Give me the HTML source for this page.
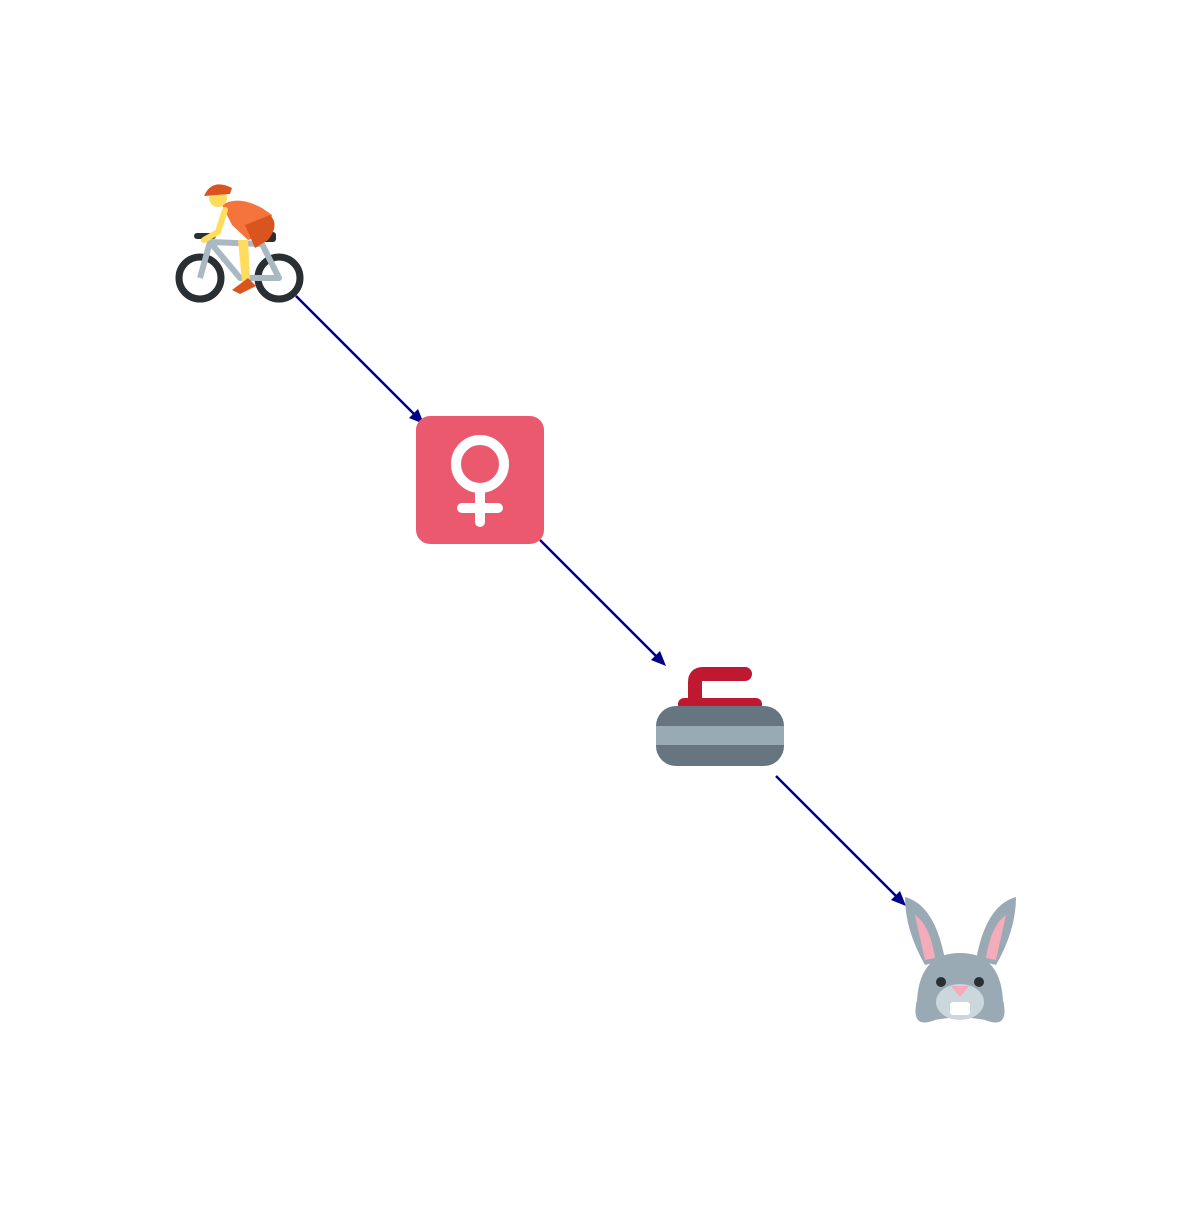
<!DOCTYPE html>
<html><head><meta charset="utf-8"><style>html,body{margin:0;padding:0;background:#fff}</style></head>
<body>
<svg width="1200" height="1200" viewBox="0 0 1200 1200" xmlns="http://www.w3.org/2000/svg">
<defs><marker id="a" markerWidth="10" markerHeight="10" refX="9" refY="5" orient="auto" markerUnits="userSpaceOnUse"><path d="M0,0 L10,5 L0,10 z" fill="#00008b" transform="scale(1.4) translate(-3,-1.5)"/></marker></defs>
<g stroke="#00008b" stroke-width="2.5">
<line x1="296" y1="296" x2="420" y2="420"/>
<line x1="540" y1="540" x2="662" y2="662"/>
<line x1="776" y1="776" x2="902" y2="902"/>
</g>
<g fill="#00008b">
<polygon points="424,424 409,418 418,409"/>
<polygon points="666,666 651,660 660,651"/>
<polygon points="906,906 891,900 900,891"/>
</g>
<!-- cyclist -->
<g>
<circle cx="200" cy="278" r="21" fill="none" stroke="#292f33" stroke-width="7"/>
<circle cx="279" cy="278" r="21" fill="none" stroke="#292f33" stroke-width="7"/>
<path d="M200,278 L210,242 L262,244 L279,278 L240,278 L210,242" fill="none" stroke="#aab8c2" stroke-width="6" stroke-linejoin="round"/>
<rect x="194" y="233" width="22" height="6" rx="3" fill="#292f33"/>
<rect x="262" y="232" width="14" height="10" rx="3" fill="#292f33"/>
<path d="M222,205 Q238,195 262,208 L272,215 L268,232 L248,240 L232,225 Z" fill="#f4743b"/>
<path d="M245,225 L270,215 Q280,225 268,240 L255,248 Z" fill="#d9541e"/>
<path d="M238,240 L248,240 L250,280 L242,282 Z" fill="#ffdc5d"/>
<path d="M232,290 L248,278 L256,286 L240,294 Z" fill="#d9541e"/>
<path d="M225,210 L218,232 L204,240" fill="none" stroke="#ffdc5d" stroke-width="6" stroke-linecap="round"/>
<circle cx="218" cy="198" r="9" fill="#ffdc5d"/>
<path d="M204,196 Q212,178 232,188 L230,194 Z" fill="#d9541e"/>
</g>
<!-- female sign -->
<rect x="416" y="416" width="128" height="128" rx="14" fill="#ea596e"/>
<circle cx="480" cy="464" r="24" fill="none" stroke="#fff" stroke-width="10"/>
<line x1="480" y1="488" x2="480" y2="522" stroke="#fff" stroke-width="10" stroke-linecap="round"/>
<line x1="462" y1="508" x2="498" y2="508" stroke="#fff" stroke-width="10" stroke-linecap="round"/>
<!-- curling -->
<path d="M695,700 L695,682 Q695,674 703,674 L745,674" fill="none" stroke="#be1931" stroke-width="14" stroke-linecap="round"/>
<rect x="678" y="698" width="84" height="14" rx="6" fill="#be1931"/>
<rect x="656" y="706" width="128" height="60" rx="20" fill="#66757f"/>
<rect x="656" y="726" width="128" height="19" fill="#99aab5"/>
<!-- rabbit -->
<path d="M905,897 Q935,905 945,960 L925,965 Q905,930 905,897 Z" fill="#99aab5"/>
<path d="M1016,897 Q986,905 976,960 L996,965 Q1016,930 1016,897 Z" fill="#99aab5"/>
<path d="M915,915 Q930,925 935,958 L925,960 Z" fill="#f4abba"/>
<path d="M1006,915 Q991,925 986,958 L996,960 Z" fill="#f4abba"/>
<path d="M960,953 Q1000,953 1003,1000 Q1010,1030 985,1020 Q960,1015 935,1020 Q910,1030 917,1000 Q920,953 960,953 Z" fill="#99aab5"/>
<ellipse cx="960" cy="1002" rx="24" ry="18" fill="#ccd6dd"/>
<circle cx="941" cy="982" r="5" fill="#292f33"/>
<circle cx="979" cy="982" r="5" fill="#292f33"/>
<path d="M951,986 L969,986 L960,997 Z" fill="#f4abba"/>
<rect x="950" y="1002" width="20" height="13" rx="3" fill="#fff"/>
</svg>
</body></html>
